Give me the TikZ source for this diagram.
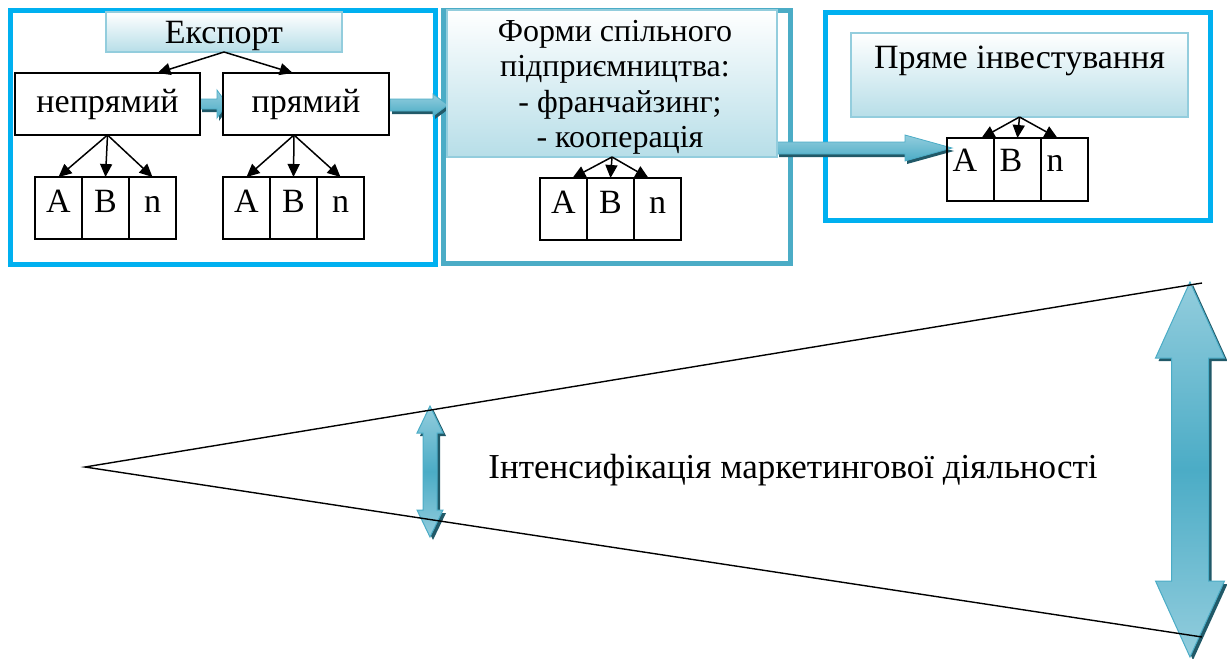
\documentclass[tikz,border=0pt]{standalone}
\usepackage{fontspec}
\setmainfont{Liberation Serif}
\usetikzlibrary{arrows.meta,calc,positioning}

\definecolor{framecyan}{HTML}{00B0F0}
\definecolor{frameteal}{HTML}{4BACC6}
\definecolor{boxedge}{HTML}{93CDDD}
\definecolor{boxfill}{HTML}{B7DEE8}
\definecolor{arrowmid}{HTML}{4BACC6}
\definecolor{arrowlight}{HTML}{93CDDD}
\definecolor{arrowdark}{HTML}{215968}

\newcommand{\lbl}{\fontsize{34}{38}\selectfont}

\tikzset{
  outerframe/.style={draw=framecyan, line width=5pt},
  titlebox/.style={draw=boxedge, line width=1.5pt, top color=white, bottom color=boxfill, font=\lbl, outer sep=0pt},
  plainbox/.style={draw, line width=1.2pt, fill=white, minimum height=62pt, font=\lbl, outer sep=0pt},
  cell/.style={draw, line width=1.2pt, minimum width=47pt, inner sep=5pt, text height=30pt, text depth=22pt, font=\lbl, outer sep=0pt},
  rcell/.style={cell, text height=28pt, text depth=25pt, align=left, text width=36pt, inner xsep=5.5pt},
  conn/.style={-{Triangle[length=13pt,width=12pt]}, line width=1.5pt},
  harrowbody/.style={draw=arrowmid, line width=0.8pt, top color=arrowlight, bottom color=arrowmid},
  varrowbody/.style={draw=arrowmid, line width=1pt, top color=arrowlight, bottom color=arrowlight, middle color=arrowmid},
  thinline/.style={line width=1.4pt}
}

% block arrow pointing right: from x, to x, y, half shaft, half head, head length
\newcommand{\blockarrowh}[6]{%
  \fill[arrowdark, shift={(2,3)}] (#1,#3-#4) -- (#2-#6,#3-#4) -- (#2-#6,#3-#5) -- (#2,#3)
    -- (#2-#6,#3+#5) -- (#2-#6,#3+#4) -- (#1,#3+#4) -- cycle;
  \path[harrowbody] (#1,#3-#4) -- (#2-#6,#3-#4) -- (#2-#6,#3-#5) -- (#2,#3)
    -- (#2-#6,#3+#5) -- (#2-#6,#3+#4) -- (#1,#3+#4) -- cycle;
}
% vertical double block arrow: x, top y, bottom y, half shaft, half head, head length
\newcommand{\blockarrowv}[6]{%
  \fill[arrowdark, shift={(3,3)}] (#1,#2) -- (#1+#5,#2+#6) -- (#1+#4,#2+#6) -- (#1+#4,#3-#6)
    -- (#1+#5,#3-#6) -- (#1,#3) -- (#1-#5,#3-#6) -- (#1-#4,#3-#6) -- (#1-#4,#2+#6)
    -- (#1-#5,#2+#6) -- cycle;
  \path[varrowbody] (#1,#2) -- (#1+#5,#2+#6) -- (#1+#4,#2+#6) -- (#1+#4,#3-#6)
    -- (#1+#5,#3-#6) -- (#1,#3) -- (#1-#5,#3-#6) -- (#1-#4,#3-#6) -- (#1-#4,#2+#6)
    -- (#1-#5,#2+#6) -- cycle;
}

\begin{document}
\begin{tikzpicture}[x=1pt,y=-1pt]
\useasboundingbox (0,0) rectangle (1227,659);

% the three stages
\draw[outerframe] (10,10) rectangle (435,264);
\draw[outerframe, draw=frameteal] (443,10) rectangle (790,263);
\draw[outerframe] (825,12) rectangle (1210,220);

% block arrows between the stages
\blockarrowh{200}{227}{104}{5}{14}{10}
\blockarrowh{390}{448}{105}{6}{11}{15}
\blockarrowh{777}{952}{148}{6}{13}{47}

% export
\node[titlebox, minimum width=236pt, minimum height=40pt, text depth=0pt] (export) at (224,32) {Експорт};
\node[plainbox, minimum width=185pt] (indirect) at (107.5,104) {непрямий};
\node[plainbox, minimum width=166pt] (direct) at (306,104) {прямий};

\node[cell] (ia) at (58.5,208) {A};
\node[cell, right=0pt of ia] (ib) {B};
\node[cell, right=0pt of ib] (ic) {n};
\node[cell] (da) at (246.5,208) {A};
\node[cell, right=0pt of da] (db) {B};
\node[cell, right=0pt of db] (dc) {n};

\draw[conn] (export.south) -- ($(indirect.north west)!0.77!(indirect.north east)$);
\draw[conn] (export.south) -- ($(direct.north west)!0.42!(direct.north east)$);
\foreach \c in {ia,ib,ic}
  \draw[conn] (indirect.south) -- (\c.north);
\foreach \c in {da,db,dc}
  \draw[conn] ($(direct.south)+(-12,0)$) -- (\c.north);

% joint ventures
\node[titlebox, minimum width=330pt, minimum height=147pt] (joint) at (612,83.5) {};
\begin{scope}
\clip (447,10) rectangle (777,157);
\node[font=\fontsize{32}{35.5}\selectfont, align=center, anchor=north, inner sep=0pt] (jointtext) at (615,20)
  {Форми спільного\\підприємництва:\\\hspace*{10pt}- франчайзинг;\\\hspace*{10pt}- кооперація};
\end{scope}
\node[cell] (ja) at (563.5,209) {A};
\node[cell, right=0pt of ja] (jb) {B};
\node[cell, right=0pt of jb] (jc) {n};
\draw[conn] (joint.south) -- ($(ja.north)+(9,0)$);
\draw[conn] (joint.south) -- (jb.north);
\draw[conn] (joint.south) -- ($(jc.north)+(-9,0)$);

% direct investment
\node[titlebox, minimum width=337pt, minimum height=84pt, text height=23pt, text depth=37pt] (invest) at (1019.5,75) {Пряме інвестування};
\node[rcell] (ra) at (970.5,169.5) {A};
\node[rcell, right=0pt of ra] (rb) {B};
\node[rcell, right=0pt of rb] (rc) {n};
\draw[conn] (invest.south) -- ($(ra.north)+(11,0)$);
\draw[conn] (invest.south) -- (rb.north);
\draw[conn] (invest.south) -- ($(rc.north)+(-7,0)$);

% intensity wedge
\node[font=\fontsize{35}{40}\selectfont] (intens) at (793,470) {Інтенсифікація маркетингової діяльності};
\blockarrowv{430}{406}{537}{7}{13}{27}
\blockarrowv{1190}{282}{657}{18.5}{34.5}{76}
\coordinate (apex) at (85,467);
\coordinate (topend) at (1202,283);
\coordinate (botend) at (1202,637);
\draw[thinline] (topend) -- (apex) -- (botend);
\end{tikzpicture}
\end{document}
